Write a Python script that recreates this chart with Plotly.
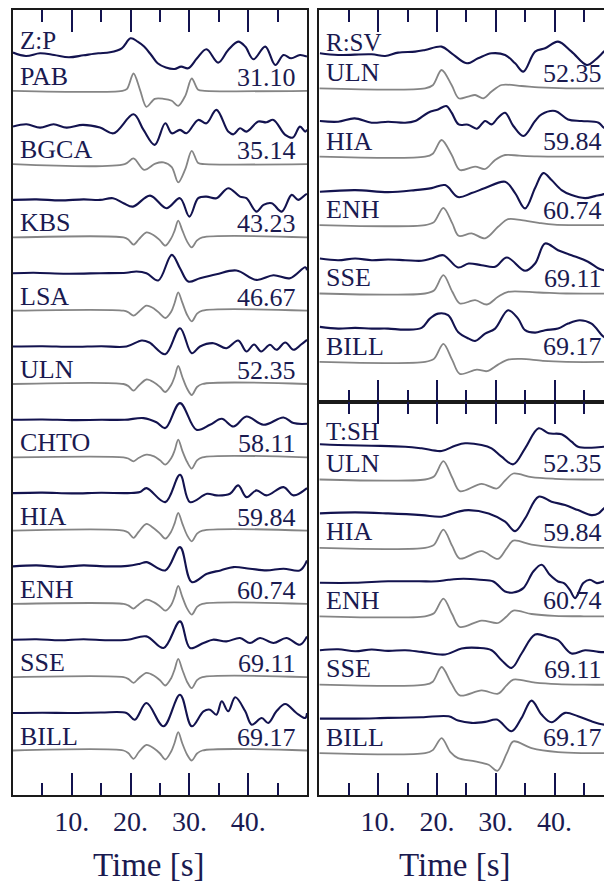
import plotly.graph_objects as go

# ---------------- DATA (time [s], amplitude [arb. units, + = up]) ----------------
# Z:P component, observed (dark) traces
ZP_STATIONS = ["PAB", "BGCA", "KBS", "LSA", "ULN", "CHTO", "HIA", "ENH", "SSE", "BILL"]
ZP_DIST = ["31.10", "35.14", "43.23", "46.67", "52.35", "58.11", "59.84", "60.74", "69.11", "69.17"]

ZP_OBS = {
    "PAB": ([0, 2.2, 4.6, 7, 9.5, 12, 14.5, 16.5, 18.5, 20.0, 21.2, 22.3, 23.5, 24.6, 26, 27.5, 28.6, 29.8, 31.3,
             32.9, 34.9, 36.6, 38.3, 39.5, 40.9, 42.9, 44.6, 46, 47.3, 48.8, 50],
            [0.07, -0.27, 0, -0.17, -0.4, -0.2, 0, 0.1, 0.5, 1.5, 1.17, 0.67, -0.17, -1.0, -1.43, -1.57, -1.33, -1.5,
             -0.5, 0.4, -0.93, 0.33, 1.17, 0.67, -0.6, 0.67, -1.17, -0.17, -0.5, -0.17, -0.33]),
    "BGCA": ([0, 2.3, 4.6, 6.9, 9.1, 11.9, 14.8, 17.1, 20.5, 22.2, 24.1, 25.9, 27, 28.4, 29.5, 31.5, 32.9, 34.6, 36.6,
              37.5, 38.6, 39.7, 41.7, 43.1, 44.3, 46.3, 47.6, 48.8, 49.7, 50],
             [0, 0.23, -0.1, 0.23, -0.1, 0.17, -0.1, -0.67, 1.23, -0.33, -1.83, 0.33, -0.67, -0.33, -0.67, 0.67, 0.33,
              1.67, -0.5, -0.77, -0.17, -0.5, 0.5, 0.43, 0.67, -0.83, -1.1, 0, -0.5, -0.3]),
    "KBS": ([0, 4, 8, 12, 14.8, 17, 18.8, 20.4, 23.3, 26.1, 28.4, 30, 31.5, 32.9, 34.6, 36.6, 38.6, 39.7, 41.4, 42.6,
             44, 45.7, 47.4, 48.5, 49.7, 50],
            [0, 0.05, -0.05, 0.05, 0, 0.17, -0.33, -0.67, 0.43, -0.83, 0.17, -1.67, 0.17, 0.33, 0.17, 1.17, 0.33, 0.17,
             -1.17, -0.5, -0.33, -1.17, 0.5, 0, 0.5, 0.6]),
    "LSA": ([0, 3.5, 9.1, 14.8, 19.3, 21, 22.7, 24.7, 27, 28.4, 29.8, 31.8, 34.6, 38, 41.4, 44.3, 47.1, 49.7, 50],
            [0, 0.05, -0.05, 0, 0.05, 0.17, 0, -0.73, 1.83, 0.5, -0.83, -0.5, -0.1, 0.27, -0.67, -0.2, -0.5, 0.6,
             0.3]),
    "ULN": ([0, 5, 10, 15, 19.3, 21.9, 23.2, 25.9, 28.4, 30.4, 31.8, 34.1, 36.3, 38.3, 39.7, 41, 42.2, 43.7, 44.8,
             46.3, 47.7, 49, 50],
            [0, 0.03, -0.03, 0.03, 0, 0.6, 0.4, -0.77, 1.83, -0.67, 0, 0.33, -0.17, 0.6, -0.5, 0.2, -0.5, 0.17, -0.33,
             0.4, -0.33, 0.2, 0.67]),
    "CHTO": ([0, 5, 10, 15, 19, 22.2, 24.4, 25.9, 28.4, 31.2, 33.5, 35.5, 37.5, 39.7, 42.6, 46, 47.7, 50],
             [0, 0.03, -0.03, 0, 0, 0.17, -0.25, -0.83, 1.67, -1.0, -0.5, 0.1, -0.67, 0.33, -0.5, 0.23, -0.33, -0.4]),
    "HIA": ([0, 5, 10, 15, 19.5, 21.6, 22.7, 25.9, 28.4, 30.1, 33, 34.6, 36.9, 38.3, 39.7, 41.4, 43.1, 46, 47.7, 50],
            [0, 0.05, -0.03, 0.03, 0, 0.1, 0.5, -0.9, 1.83, -0.9, -0.07, -0.23, -0.07, 0.77, -0.4, 0.27, -0.23, 0.6,
             -0.23, 0.5]),
    "ENH": ([0, 4, 8, 12, 16, 19.5, 21.6, 22.7, 25.9, 28.4, 30.4, 33, 35.3, 37.5, 40.3, 43.1, 46, 48.8, 50],
            [0, 0.1, -0.05, 0.1, 0, 0.05, 0.27, 0.43, -0.4, 1.93, -1.57, -0.73, -0.4, -0.07, -0.23, -0.4, -0.23, -0.4,
             0.6]),
    "SSE": ([0, 4, 8, 12, 16, 19.5, 22.7, 25.6, 28.4, 30.1, 32.4, 34, 36.3, 38.6, 40.3, 42, 44.3, 46.5, 48.8, 50],
            [0, 0.05, -0.05, 0.05, -0.05, 0, 0.33, -0.83, 1.83, -0.83, -0.33, 0, -0.17, 0.17, -0.33, 0.17, -0.33, 0.17,
             -0.5, 0.33]),
    "BILL": ([0, 5, 10, 15, 19.3, 20.7, 22.7, 25.6, 28.4, 30.4, 32.4, 33.5, 34.6, 35.5, 36.6, 37.8, 39.5, 40.6, 42.3,
              43.4, 44.8, 46.3, 48.2, 49.7, 50],
             [0, 0.03, 0, 0.05, 0, -0.67, 1.0, -1.33, 1.83, -1.33, 0.17, 0.33, -0.17, 1.17, 0.17, 1.57, 0.17, -1.17,
              -0.5, -1.0, 0.17, 0.9, 0, -0.5, 0]),
}

# Z:P synthetics (grey)
ZP_SYN_T = [0, 18.8, 19.6, 20.5, 21.4, 22.7, 24.0, 25.0, 25.9, 26.9, 27.5, 28.1, 28.8, 29.6, 30.4, 31.3, 32.2, 50]
ZP_SYN = {
    "PAB": ([0, 18.6, 19.4, 20.5, 21.6, 22.7, 24.1, 25.6, 27.0, 28.1, 29.3, 30.4, 31.5, 32.6, 50],
            [0, 0, 0.2, 1.73, 0.1, -1.6, -0.8, -0.8, -1.0, -1.5, -0.5, 1.23, 0.1, 0, 0]),
    "BGCA": ([0, 19.0, 20.5, 22.3, 24.2, 25.6, 27.0, 28.1, 29.3, 30.4, 31.5, 32.6, 50],
             [0, 0, 0.57, -0.57, 0.05, 0.17, -0.3, -1.83, -0.5, 1.33, 0.1, 0, 0]),
    "KBS": (ZP_SYN_T, [0, 0, -0.2, -0.73, -0.2, 0.5, 0.2, -0.3, -0.83, -0.1, 0.7, 1.67, 0.7, -0.4, -1.0, -0.3, 0, 0]),
    "LSA": (ZP_SYN_T, [0, 0, -0.15, -0.5, -0.1, 0.5, 0.2, -0.3, -0.73, -0.1, 0.8, 1.83, 0.8, -0.4, -1.07, -0.3, 0, 0]),
    "ULN": (ZP_SYN_T, [0, 0, -0.2, -0.67, -0.15, 0.45, 0.15, -0.3, -0.8, -0.1, 0.75, 1.8, 0.7, -0.45, -1.1, -0.3, 0, 0]),
    "CHTO": (ZP_SYN_T, [0, 0, -0.12, -0.4, -0.05, 0.27, 0.1, -0.3, -0.73, -0.1, 0.7, 1.77, 0.65, -0.45, -1.13, -0.3, 0, 0]),
    "HIA": (ZP_SYN_T, [0, 0, -0.2, -0.73, -0.1, 0.67, 0.2, -0.3, -0.8, -0.1, 0.75, 1.77, 0.7, -0.45, -1.07, -0.3, 0, 0]),
    "ENH": (ZP_SYN_T, [0, 0, -0.15, -0.47, -0.05, 0.43, 0.15, -0.25, -0.67, -0.1, 0.75, 1.8, 0.7, -0.45, -1.07, -0.3, 0, 0]),
    "SSE": (ZP_SYN_T, [0, 0, -0.17, -0.57, -0.1, 0.43, 0.15, -0.3, -0.83, -0.1, 0.8, 1.83, 0.75, -0.45, -1.1, -0.3, 0, 0]),
    "BILL": (ZP_SYN_T, [0, 0, -0.25, -0.83, -0.15, 0.57, 0.2, -0.3, -0.9, -0.1, 0.8, 1.83, 0.7, -0.4, -1.0, -0.3, 0, 0]),
}

# R:SV component
RSV_STATIONS = ["ULN", "HIA", "ENH", "SSE", "BILL"]
RSV_DIST = ["52.35", "59.84", "60.74", "69.11", "69.17"]
RSV_OBS = {
    "ULN": ([0.1, 3.2, 8.9, 11.2, 13.4, 16.3, 18, 20.8, 22.5, 25.1, 27, 29.3, 31.6, 33.3, 34.7, 36.7, 38.4, 40.6, 42.9,
             45.5, 46.9, 48.4, 49.5],
            [0.1, -0.07, 0, -0.17, 0.17, 0.27, 0.43, 0.77, 0.1, -0.9, -0.4, 0.1, -0.07, -0.9, -1.73, 0.27, 0.6, 1.27,
             0.27, -1.07, -0.57, 0.27, 0.9]),
    "HIA": ([0.1, 3.2, 6, 8.9, 11.7, 14.6, 16.3, 18.5, 20.2, 21.6, 22.5, 23.7, 25.3, 26.8, 28.2, 29.3, 30.4, 31.6, 33,
             34.7, 36.7, 37.8, 40.1, 42.3, 44.6, 47.5, 48.4, 49.5],
            [0.17, 0.1, 0.43, 0, 0.1, 0, 0.17, 1.0, 1.33, 1.67, 1.0, -0.17, -0.2, -0.6, 0.17, -0.17, 0.5, 1.0, -0.33,
             -1.33, 0.17, 0.83, 1.17, 0.33, 0.17, 0, -0.5, -0.8]),
    "ENH": ([0.1, 6.1, 11.7, 16.3, 19.1, 21.4, 23.6, 25.9, 28.2, 31.6, 33.3, 35, 36.7, 38.1, 39.5, 41.2, 42.9, 45.2,
             46.9, 48.4, 49.5],
            [-0.07, 0.1, -0.1, 0.1, 0.3, 0.6, -0.6, -0.2, 0.3, 0.93, -0.2, -1.73, 0.3, 1.8, 1.1, 0.1, -0.4, -0.7, -0.5,
             -0.3, 0]),
    "SSE": ([0.1, 3.2, 6.1, 8.9, 11.7, 14.6, 17.4, 19.1, 21.1, 23.6, 25.4, 27.6, 29.9, 31.9, 35, 36.7, 38.4, 40.6,
             42.9, 45.7, 47.5, 48.4, 49.5],
            [0.1, -0.07, 0.1, -0.07, 0, -0.07, -0.13, 0.1, 0.43, -0.8, -0.4, -0.57, -0.73, 0.2, -1.13, -0.4, 1.6, 0.93,
             0.43, -0.23, -0.9, -1.07, -1.1]),
    "BILL": ([0.1, 3.2, 6.1, 8.9, 11.7, 14.6, 17.4, 18.8, 20.2, 21.9, 23.6, 25.4, 26.5, 28.2, 29.9, 32.1, 33.8, 35,
              36.7, 38.4, 40.6, 42.3, 44.3, 46.3, 48.4, 49.5],
             [0.1, -0.07, 0, -0.07, -0.07, -0.17, 0, 0.93, 1.43, 1.27, -0.4, -1.07, -1.3, -0.57, -0.07, 1.77, 0.93,
              -0.23, -0.47, -0.23, -0.07, 0.43, 0.77, 0.43, -0.9, -1.1]),
}
RSV_SYN = {
    "ULN": ([0, 18, 19.3, 20.8, 22.5, 23.7, 25.3, 26.5, 27.9, 29.3, 31, 34.4, 37.3, 42, 50],
            [0, 0, 0.3, 1.83, 0.33, -1.0, -0.83, -0.67, -1.0, -0.33, 0.33, 0.23, 0.1, 0, 0]),
    "HIA": ([0, 18, 19.3, 20.8, 22.5, 23.9, 26.5, 28.2, 29.9, 31.6, 34, 37, 42, 50],
            [0, 0, 0.3, 1.67, 0.2, -1.33, -1.0, -1.23, -0.33, 0.17, 0.1, 0.03, 0, 0]),
    "ENH": ([0, 18, 19.5, 21.1, 22.6, 23.7, 25.9, 28.2, 30.4, 32.1, 34.4, 37.3, 40, 50],
            [0, 0, 0.3, 1.73, 0.2, -1.07, -0.83, -1.33, -0.17, 0.6, 0.5, 0.23, 0.05, 0]),
    "SSE": ([0, 18, 19.5, 21.1, 22.6, 23.9, 26.5, 28.5, 30.4, 32.1, 37.3, 42, 50],
            [0, 0, 0.3, 1.83, 0.2, -1.0, -0.67, -1.1, -0.33, 0.17, 0.1, 0, 0]),
    "BILL": ([0, 18, 19.5, 21.1, 22.6, 23.9, 26.8, 28.5, 30.4, 32.1, 34.4, 38, 42, 50],
             [0, 0, 0.3, 1.8, 0.2, -1.2, -0.77, -0.93, -0.27, 0.23, 0.3, 0.1, 0, 0]),
}

# T:SH component
TSH_STATIONS = ["ULN", "HIA", "ENH", "SSE", "BILL"]
TSH_DIST = ["52.35", "59.84", "60.74", "69.11", "69.17"]
TSH_OBS = {
    "ULN": ([0.1, 3.2, 8.9, 14.6, 17.4, 20.8, 23.1, 24.8, 27.6, 29.3, 31, 33, 35, 37.3, 39, 41.2, 42.9, 44, 46.3,
             48.4, 49.5],
            [0.07, 0, -0.07, -0.17, -0.33, -0.6, -0.07, 0.17, 0, -0.33, -1.17, -1.93, -0.33, 1.67, 1.17, 1.07, 0.33,
             -0.17, -0.27, -0.17, -0.1]),
    "HIA": ([0.1, 6.1, 11.7, 17.4, 20.8, 23.6, 25.4, 28.8, 31.6, 33.3, 35, 37.3, 39.5, 41.8, 44, 46.3, 47.5, 48.4,
             49.5],
            [0, 0.1, 0, -0.17, -0.33, 0.17, 0.33, 0, -0.83, -1.77, -0.5, 1.67, 1.17, 0.83, 0.33, -0.17, 0, 0.5, 0.8]),
    "ENH": ([0.1, 6, 11.7, 17, 20, 22, 24.5, 27.3, 29.6, 31.6, 33, 34.7, 36.4, 37.8, 39.2, 40.6, 41.6, 42.6, 43.5,
             44.9, 46, 47.2, 48.4, 49.5],
            [-0.1, -0.1, 0.05, 0.05, 0.05, 0.2, 0.3, 0.2, 0.03, -0.97, -1.07, -0.63, 1.03, 1.7, 0.7, 0.03, -0.13,
             -0.8, -1.63, -0.13, 0.2, -0.13, 0.03, 0.1]),
    "SSE": ([0.1, 3.2, 6.1, 8.9, 11.7, 14.6, 17.4, 21.4, 24.2, 27, 29.3, 31, 32.7, 34.4, 36.7, 38.9, 40.6, 42.9, 45.2,
             47.5, 49.5],
            [0, 0.1, -0.1, 0.07, -0.07, 0, -0.17, -0.43, 0.17, 0.23, 0, -1.0, -1.77, -0.33, 1.57, 1.33, 1.0, -0.33, 0,
             -0.17, -0.2]),
    "BILL": ([0.1, 6.1, 11.7, 17.4, 22, 23.6, 25.9, 28.2, 30.2, 32.7, 34.4, 36.1, 37.8, 39.5, 41.8, 44, 46.3, 48.4,
              49.5],
             [0, 0, 0.07, 0.13, 0.23, -0.2, -0.43, -0.33, -0.1, -1.27, 0.07, 1.8, 0.4, -0.37, 0.57, 0.23, -0.27, -0.6,
              -0.6]),
}
TSH_SYN = {
    "ULN": ([0, 18, 19.5, 21.1, 22.6, 23.9, 27.6, 30.2, 31.6, 33, 36.1, 40.1, 45, 50],
            [0, 0, 0.3, 1.83, 0.2, -1.17, -0.43, -0.9, -0.1, 0.6, 0.23, 0.07, 0, 0]),
    "HIA": ([0, 18, 19.5, 21.1, 22.6, 23.9, 27.6, 30.4, 31.8, 33, 36.1, 40, 45, 50],
            [0, 0, 0.3, 1.83, 0.2, -1.07, -0.33, -1.1, -0.1, 0.73, 0.33, 0.07, 0, 0]),
    "ENH": ([0, 18, 19.5, 21.1, 22.6, 23.9, 27.6, 30.4, 31.8, 33, 36.1, 40, 45, 50],
            [0, 0, 0.3, 1.77, 0.2, -1.07, -0.43, -0.67, -0.05, 0.57, 0.23, 0.05, 0, 0]),
    "SSE": ([0, 18, 19.3, 20.8, 22.4, 23.9, 27.6, 30.4, 31.8, 33, 36.7, 40.5, 45, 50],
            [0, 0, 0.3, 1.77, 0.2, -1.07, -0.57, -0.9, -0.1, 0.5, 0.2, 0.05, 0, 0]),
    "BILL": ([0, 18, 19.3, 20.8, 22.3, 23.6, 26.5, 28.8, 30.3, 31.9, 33, 36.1, 40.6, 45, 50],
             [0, 0, 0.3, 1.5, 0.1, -0.5, -0.83, -1.17, -1.77, 0, 1.17, 0.5, 0.1, 0, 0]),
}

TICK_VALS = [10, 20, 30, 40]
TICK_TEXT = ["10.", "20.", "30.", "40."]
MINOR_VALS = [5, 15, 25, 35, 45]
X_TITLE = "Time [s]"

# ---------------- STYLE / LAYOUT ----------------
W, H = 604, 884
NAVY = "#13134f"
TXT = "#1a1a50"
GREY = "#858585"
FRAME = "#1a1a1a"
FONT = "Liberation Serif"
PX_PER_S = 5.88


def px(v, total):
    return v / total


fig = go.Figure()

panels = [
    # (xref, yref, stations, dists, obs, syn, comp label, spacing, grey offset, label dy, num dy,
    #  lab x, num x, num xshift, title dy)
    ("x", "y", ZP_STATIONS, ZP_DIST, ZP_OBS, ZP_SYN, "Z:P", 7.33, 3.75, -2.3, -2.4, 0.8, 48.4, 0, 1.25),
    ("x2", "y2", RSV_STATIONS, RSV_DIST, RSV_OBS, RSV_SYN, "R:SV", 6.84, 3.4, -1.85, -1.9, 0.85, 48.3, 1, 1.2),
    ("x3", "y3", TSH_STATIONS, TSH_DIST, TSH_OBS, TSH_SYN, "T:SH", 6.84, 3.45, -1.85, -1.9, 0.85, 48.3, 1, 1.3),
]

annotations = []
for xr, yr, stations, dists, obs, syn, comp, sp, goff, ldy, ndy, lx, nx, nxs, tdy in panels:
    for k, st in enumerate(stations):
        base = -k * sp
        t, a = obs[st]
        fig.add_trace(go.Scatter(x=t, y=[base + v for v in a], mode="lines", xaxis=xr, yaxis=yr,
                                 line=dict(color=NAVY, width=2.1, shape="spline", smoothing=1.0),
                                 hoverinfo="skip", showlegend=False))
        t2, a2 = syn[st]
        fig.add_trace(go.Scatter(x=t2, y=[base - goff + v for v in a2], mode="lines", xaxis=xr, yaxis=yr,
                                 line=dict(color=GREY, width=1.8, shape="spline", smoothing=0.9),
                                 hoverinfo="skip", showlegend=False))
        annotations.append(dict(x=lx, y=base + ldy, xref=xr, yref=yr, text=st, showarrow=False,
                                xanchor="left", yanchor="middle", font=dict(family=FONT, size=26, color=TXT)))
        annotations.append(dict(x=nx, y=base + ndy, xref=xr, yref=yr, text=dists[k], showarrow=False,
                                xanchor="right", yanchor="middle", xshift=nxs,
                                font=dict(family=FONT, size=26, color=TXT)))
    annotations.append(dict(x=lx, y=tdy, xref=xr, yref=yr, text=comp, showarrow=False,
                            xanchor="left", yanchor="middle", font=dict(family=FONT, size=25, color=TXT)))

for cx in (149, 454.6):
    annotations.append(dict(x=px(cx, W), y=1 - px(865, H), xref="paper", yref="paper", text=X_TITLE,
                            showarrow=False, xanchor="center", yanchor="middle",
                            font=dict(family=FONT, size=33, color=TXT)))

L_X0, L_X1 = 13, 307
R_X0 = 319.3
TOP, MID, BOT = 10, 402, 795


def xaxis_cfg(domain, rng, anchor, labels):
    return dict(domain=domain, range=rng, anchor=anchor, showgrid=False, zeroline=False,
                showline=True, linecolor=FRAME, linewidth=2, mirror="ticks",
                ticks="inside", ticklen=22, tickwidth=2, tickcolor=NAVY,
                tickvals=TICK_VALS, ticktext=TICK_TEXT, showticklabels=labels,
                tickfont=dict(family=FONT, size=28, color=TXT), ticklabelstandoff=0,
                minor=dict(tickvals=MINOR_VALS, ticks="inside", ticklen=12, tickwidth=2,
                           tickcolor=NAVY, showgrid=False))


def yaxis_cfg(domain, rng, anchor, mirror):
    return dict(domain=domain, range=rng, anchor=anchor, showgrid=False, zeroline=False,
                showline=True, linecolor=FRAME, linewidth=2, mirror=mirror,
                ticks="", showticklabels=False)


fig.update_layout(
    width=W, height=H, margin=dict(l=0, r=0, t=0, b=0),
    paper_bgcolor="white", plot_bgcolor="white", showlegend=False,
    xaxis=xaxis_cfg([px(L_X0, W), px(L_X1, W)], [0, 50], "y", True),
    yaxis=yaxis_cfg([1 - px(BOT, H), 1 - px(TOP, H)], [-74.17, 4.33], "x", True),
    xaxis2=xaxis_cfg([px(R_X0, W), 1], [0, (W - R_X0) / PX_PER_S], "y2", False),
    yaxis2=yaxis_cfg([1 - px(MID, H), 1 - px(TOP, H)], [-34.77, 4.43], "x2", False),
    xaxis3=xaxis_cfg([px(R_X0, W), 1], [0, (W - R_X0) / PX_PER_S], "y3", True),
    yaxis3=yaxis_cfg([1 - px(BOT, H), 1 - px(MID, H)], [-35.0, 4.3], "x3", False),
    annotations=annotations,
)

fig.write_html("out.html")
